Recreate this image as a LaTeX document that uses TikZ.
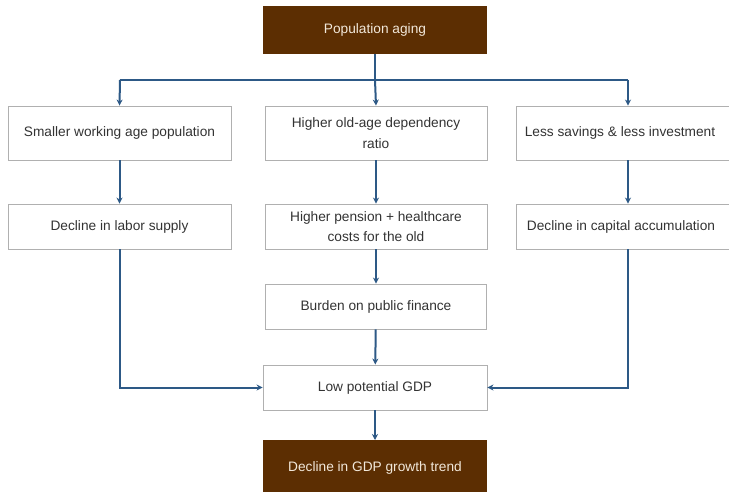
\documentclass[tikz,border=0pt]{standalone}
\usepackage{fontspec}
\setmainfont{Liberation Sans}
\usetikzlibrary{arrows.meta}
\definecolor{brownbox}{HTML}{5C2E02}
\definecolor{bluearrow}{HTML}{2D5986}
\definecolor{graybord}{HTML}{B0B0B0}
\definecolor{textgray}{HTML}{333333}
\definecolor{lighttext}{HTML}{F2E8DA}
\begin{document}
\begin{tikzpicture}[x=1pt,y=-1pt,
  box/.style={draw=graybord,line width=0.9pt,fill=white,inner sep=0pt,align=center,
    text=textgray,font=\fontsize{13.7}{20.5}\selectfont},
  brownbox/.style={fill=brownbox,inner sep=0pt,align=center,text=lighttext,
    font=\fontsize{13.7}{20.5}\selectfont},
  conn/.style={draw=bluearrow,line width=2pt},
  arr/.style={conn,-{Stealth[length=6pt,width=6pt]}}]
\useasboundingbox (0,0) rectangle (729,492);
\fill[white] (0,0) rectangle (729,492);
\node[brownbox,minimum width=224pt,minimum height=48pt] (top) at (375,30) {Population aging};
\node[box,minimum width=223pt,minimum height=54pt] (r1l) at (119.5,133) {Smaller working age population};
\node[box,minimum width=222pt,minimum height=54pt] (r1m) at (376,133) {Higher old-age dependency\\ratio};
\node[box,minimum width=224pt,minimum height=54pt] (r1r) at (628,133) {Less savings \& less investment\hspace*{16pt}};
\node[box,minimum width=223pt,minimum height=45pt] (r2l) at (119.5,226.5) {Decline in labor supply};
\node[box,minimum width=222pt,minimum height=45pt] (r2m) at (376,226.5) {Higher pension + healthcare\\costs for the old};
\node[box,minimum width=224pt,minimum height=45pt] (r2r) at (628,226.5) {Decline in capital accumulation\hspace*{14pt}};
\node[box,minimum width=221pt,minimum height=45pt] (bur) at (376,306.5) {Burden on public finance};
\node[box,minimum width=224pt,minimum height=45pt] (low) at (375,387.5) {Low potential GDP};
\node[brownbox,minimum width=224pt,minimum height=56pt,anchor=north] (bot) at (375,440) {\raisebox{-4pt}{Decline in GDP growth trend}};
\coordinate (hub) at (375,80);
\coordinate (hl) at (120,80);
\coordinate (hr) at (628,80);
\draw[conn] (top.south) -- (hub);
\draw[conn] (hl) -- (hr);
\draw[arr] (hl) -- (r1l.north);
\draw[arr] (hub) -- (r1m.north);
\draw[arr] (hr) -- (r1r.north);
\draw[arr] (r1l) -- (r2l);
\draw[arr] (r1m) -- (r2m);
\draw[arr] (r1r) -- (r2r);
\draw[arr] (r2m) -- (bur);
\draw[arr] (bur) -- (low);
\draw[arr] (r2l.south) |- (low.west);
\draw[arr] (r2r.south) |- (low.east);
\draw[arr] (low) -- (bot);
\end{tikzpicture}
\end{document}
